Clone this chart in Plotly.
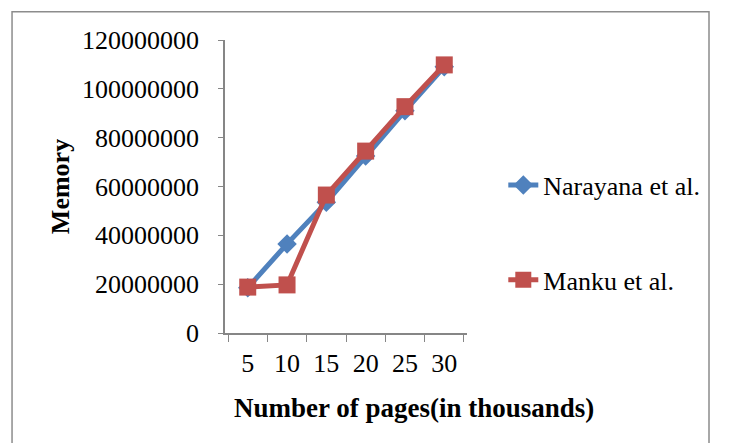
import plotly.graph_objects as go

pages = ["5", "10", "15", "20", "25", "30"]
narayana = [18500000, 36500000, 53500000, 72500000, 91000000, 109000000]
manku = [18800000, 19700000, 56500000, 74500000, 92700000, 109800000]
y_ticks = [0, 20000000, 40000000, 60000000, 80000000, 100000000, 120000000]
series_names = ["Narayana et al.", "Manku et al."]

serif = "Liberation Serif"
blue = "#4F81BD"
red = "#C0504D"
axis_grey = "#868686"


def serif_label(s):
    return "<span style='font-family:Liberation Serif, serif'>" + s + "</span>"


fig = go.Figure()
fig.add_trace(go.Scatter(x=pages, y=narayana, name=serif_label(series_names[0]), mode="lines+markers",
                         line=dict(color=blue, width=5), legendgroup="a",
                         marker=dict(symbol="diamond", size=15, color=blue)))
fig.add_trace(go.Scatter(x=pages, y=manku, name=serif_label(series_names[1]), mode="lines+markers",
                         line=dict(color=red, width=5), legendgroup="b",
                         marker=dict(symbol="square", size=17, color=red)))

# page body has an 8px margin, so everything is pulled up/left by 8
fig.update_layout(
    width=740, height=443,
    margin=dict(l=217, r=281, t=32, b=118, autoexpand=False),
    paper_bgcolor="white", plot_bgcolor="white",
    font=dict(family=serif, color="black", size=22),
    legend=dict(x=1.15, y=0.585, xanchor="left", yanchor="top",
                font=dict(family=serif, size=26, color="black"), tracegroupgap=58,
                bgcolor="rgba(0,0,0,0)"),
    shapes=[dict(type="rect", xref="paper", yref="paper",
                 x0=-0.88, x1=2.0, y0=-0.6, y1=1.096,
                 line=dict(color="#8c8c8c", width=1.5))],
    annotations=[dict(text="<b>Number of pages(in thousands)</b>", xref="paper", yref="paper",
                      x=0.78, y=-0.256, xanchor="center", yanchor="middle", showarrow=False,
                      font=dict(family=serif, size=27, color="black"))],
)
fig.update_xaxes(
    type="category", showline=True, linecolor=axis_grey, linewidth=1.5,
    ticks="outside", tickson="boundaries", ticklen=7, tickcolor=axis_grey,
    ticklabelstandoff=6, showgrid=False, zeroline=False,
    tickfont=dict(family=serif, size=26),
)
fig.update_yaxes(
    range=[0, 120000000], tickvals=y_ticks, ticktext=[str(v) for v in y_ticks],
    showline=True, linecolor=axis_grey, linewidth=1.5,
    ticks="outside", ticklen=5, tickcolor=axis_grey, ticklabelstandoff=14,
    showgrid=False, zeroline=False,
    tickfont=dict(family=serif, size=26),
    title=dict(text="<b>Memory</b>", font=dict(family=serif, size=26), standoff=5),
)

fig.write_html("out.html")
